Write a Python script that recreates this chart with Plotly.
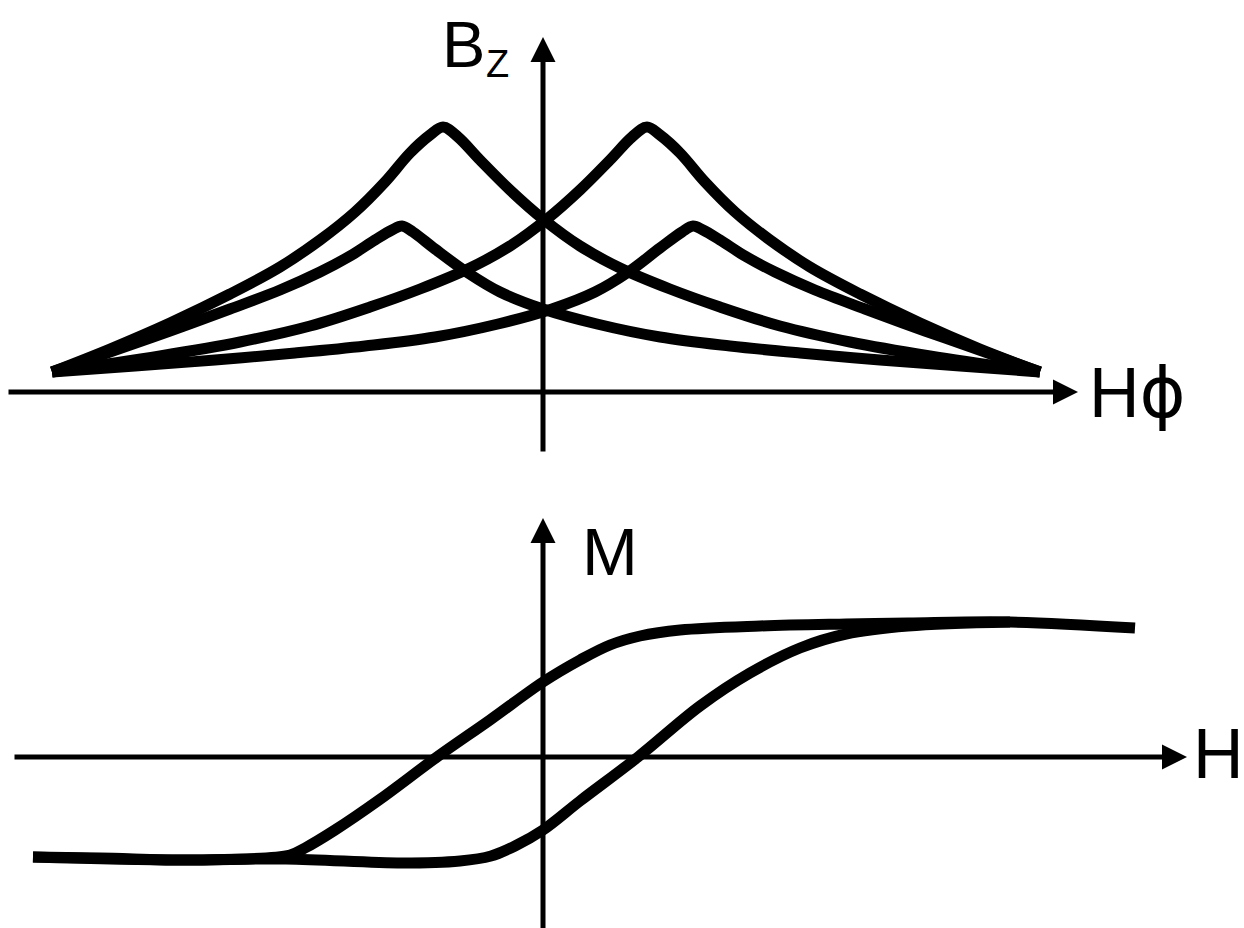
import plotly.graph_objects as go

# ---- Upper panel: B_z versus H_phi (arbitrary units) ----
h_big_left = [-4.91, -4.33, -3.73, -3.13, -2.63, -2.23, -1.88, -1.58, -1.33, -1.13, -1.00,
              -0.85, -0.63, -0.33, 0.00, 0.37, 0.77, 1.27, 1.77, 2.37, 3.07, 3.87, 4.97]
bz_big_left = [0.20, 0.43, 0.69, 0.98, 1.25, 1.52, 1.80, 2.10, 2.39, 2.57, 2.65,
               2.55, 2.32, 2.02, 1.73, 1.46, 1.24, 1.03, 0.85, 0.66, 0.50, 0.36, 0.20]

h_big_right = [-4.91, -3.83, -3.03, -2.33, -1.73, -1.23, -0.73, -0.33, 0.04, 0.37, 0.67,
               0.89, 1.04, 1.17, 1.37, 1.62, 1.92, 2.27, 2.67, 3.17, 3.77, 4.37, 4.97]
bz_big_right = [0.20, 0.36, 0.50, 0.66, 0.85, 1.03, 1.24, 1.46, 1.73, 2.02, 2.32,
                2.55, 2.65, 2.57, 2.39, 2.10, 1.80, 1.52, 1.25, 0.98, 0.69, 0.43, 0.20]

h_small_left = [-4.91, -4.33, -3.73, -3.13, -2.63, -2.23, -1.93, -1.68, -1.51, -1.41, -1.30,
                -1.08, -0.75, -0.43, 0.00, 0.54, 1.17, 1.87, 2.57, 3.37, 4.17, 4.97]
bz_small_left = [0.20, 0.40, 0.61, 0.83, 1.02, 1.20, 1.36, 1.52, 1.62, 1.66, 1.60,
                 1.43, 1.19, 1.00, 0.83, 0.68, 0.55, 0.46, 0.39, 0.32, 0.26, 0.20]

h_small_right = [-4.91, -4.08, -3.28, -2.48, -1.78, -1.08, -0.45, 0.09, 0.52, 0.84, 1.17,
                 1.39, 1.50, 1.60, 1.77, 2.02, 2.32, 2.72, 3.22, 3.82, 4.42, 4.97]
bz_small_right = [0.20, 0.26, 0.32, 0.39, 0.46, 0.55, 0.68, 0.83, 1.00, 1.19, 1.44,
                  1.60, 1.66, 1.62, 1.52, 1.36, 1.20, 1.02, 0.83, 0.61, 0.40, 0.20]

# ---- Lower panel: hysteresis loop M versus H ----
h_descending = [5.92, 4.67, 3.65, 3.03, 2.17, 1.37, 0.97, 0.67, 0.37, 0.00, -0.53, -1.06,
                -1.64, -2.08, -2.38, -2.53, -3.43, -4.43, -5.10]
m_descending = [1.29, 1.35, 1.34, 1.33, 1.31, 1.27, 1.21, 1.12, 0.97, 0.75, 0.37, 0.00,
                -0.43, -0.73, -0.91, -0.98, -1.03, -1.01, -1.00]

h_ascending = [-5.10, -3.64, -2.57, -1.41, -0.83, -0.52, -0.28, 0.00, 0.37, 0.95, 1.57,
               2.07, 2.57, 3.03, 3.65, 4.67]
m_ascending = [-1.00, -1.03, -1.02, -1.06, -1.04, -0.99, -0.89, -0.73, -0.44, 0.00, 0.51,
               0.84, 1.09, 1.23, 1.31, 1.35]

CURVE = dict(color="black", width=11, shape="spline", smoothing=1.0)

fig = go.Figure()
for hx, by in [(h_big_left, bz_big_left), (h_big_right, bz_big_right),
               (h_small_left, bz_small_left), (h_small_right, bz_small_right)]:
    fig.add_trace(go.Scatter(x=hx, y=by, mode="lines", line=CURVE,
                             hoverinfo="skip", xaxis="x", yaxis="y"))
for hx, my in [(h_descending, m_descending), (h_ascending, m_ascending)]:
    fig.add_trace(go.Scatter(x=hx, y=my, mode="lines", line=CURVE,
                             hoverinfo="skip", xaxis="x", yaxis="y2"))

ARROW = dict(text="", showarrow=True, arrowhead=2, arrowsize=1.0, arrowwidth=5,
             arrowcolor="black", standoff=0, startstandoff=0)

annotations = [
    # upper panel axes
    dict(x=5.35, y=0, ax=-5.36, ay=0, xref="x", yref="y", axref="x", ayref="y", **ARROW),
    dict(x=0, y=3.55, ax=0, ay=-0.61, xref="x", yref="y", axref="x", ayref="y", **ARROW),
    # lower panel axes
    dict(x=6.44, y=0, ax=-5.30, ay=0, xref="x", yref="y2", axref="x", ayref="y2", **ARROW),
    dict(x=0, y=2.39, ax=0, ay=-1.75, xref="x", yref="y2", axref="x", ayref="y2", **ARROW),
]

W, H = 1244, 928
LABEL_FONT = "Liberation Sans, Arial, sans-serif"


def label(text, px, py, size):
    return dict(text=text, x=px / W, y=1 - py / H, xref="paper", yref="paper",
                xanchor="left", yanchor="middle", showarrow=False,
                font=dict(family=LABEL_FONT, size=size, color="black"))


annotations += [
    label("B", 440, 44, 65),
    label("Z", 484, 64, 38),
    label("H<span style='font-family:DejaVu Sans'>ϕ</span>", 1087, 393, 70),
    label("M", 580, 551, 67),
    label("H", 1191, 754, 70),
]

fig.update_layout(
    width=W, height=H,
    margin=dict(l=0, r=0, t=0, b=0),
    paper_bgcolor="white", plot_bgcolor="white",
    showlegend=False,
    xaxis=dict(range=[-5.43, 7.01], visible=False, domain=[0, 1], fixedrange=True),
    yaxis=dict(range=[-5.36, 3.92], visible=False, domain=[0, 1], fixedrange=True),
    yaxis2=dict(range=[-1.71, 7.57], visible=False, overlaying="y", fixedrange=True),
    annotations=annotations,
)

fig.write_html("out.html", config={"displayModeBar": False})
